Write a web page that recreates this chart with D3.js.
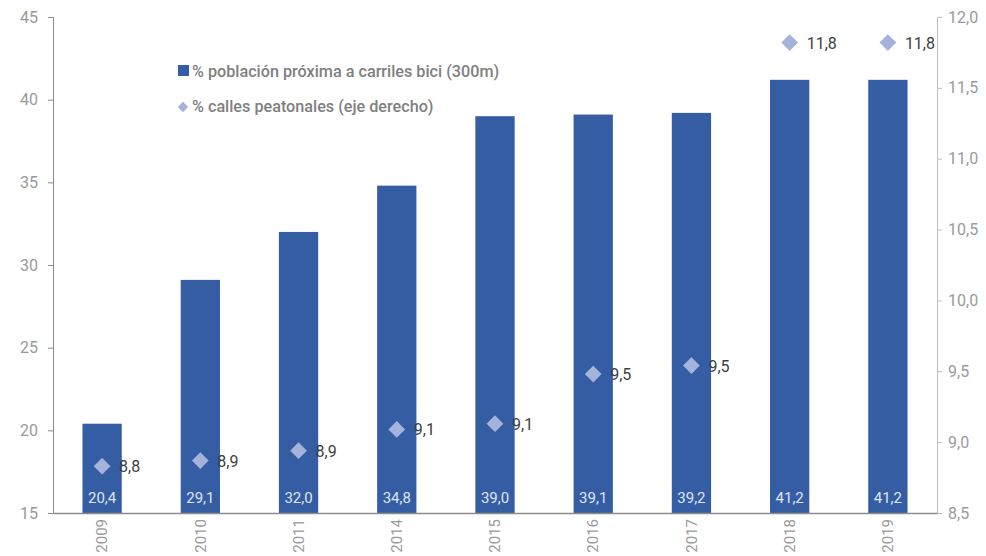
<!DOCTYPE html>
<html><head><meta charset="utf-8">
<script src="https://cdn.jsdelivr.net/npm/d3@7"></script>
<style>body{margin:0;background:#fff}svg{display:block;font-family:Roboto,sans-serif}</style>
</head><body><svg id="c" width="986" height="556"></svg>
<script>
const years = ["2009","2010","2011","2014","2015","2016","2017","2018","2019"];
const bikeValues = [20.4, 29.1, 32.0, 34.8, 39.0, 39.1, 39.2, 41.2, 41.2];
const pedestrianValues = [8.83, 8.87, 8.94, 9.09, 9.13, 9.48, 9.54, 11.82, 11.82];
const pedestrianLabels = ["8,8","8,9","8,9","9,1","9,1","9,5","9,5","11,8","11,8"];
const leftTicks = [15, 20, 25, 30, 35, 40, 45];
const rightTicks = [8.5, 9.0, 9.5, 10.0, 10.5, 11.0, 11.5, 12.0];
const seriesNames = ["% población próxima a carriles bici (300m)", "% calles peatonales (eje derecho)"];

const svg = d3.select("#c");
const L = 53, R = 937, T = 17, B = 513;
const fmt1 = d => d.toFixed(1).replace(".", ",");
const x = d3.scaleBand().domain(years).range([L, R]).paddingInner(0.6).paddingOuter(0.3);
const yL = d3.scaleLinear().domain([15, 45]).range([B, T]);
const yR = d3.scaleLinear().domain([8.5, 12.0]).range([B, T]);
const barColor = "#355da4", diaColor = "#a5b3db";

// left axis
const gL = svg.append("g").attr("transform", `translate(${L},0)`)
  .call(d3.axisLeft(yL).tickValues(leftTicks).tickSize(5).tickPadding(10));
gL.select(".domain").attr("stroke", "#8c8c8c");
gL.selectAll(".tick line").attr("stroke", "#8c8c8c");
gL.selectAll(".tick text").attr("fill", "#9a9a9a").style("font-size", "16px").style("font-family", "Roboto");

// right axis
const gR = svg.append("g").attr("transform", `translate(${R},0)`)
  .call(d3.axisRight(yR).tickValues(rightTicks).tickSize(5).tickPadding(6).tickFormat(fmt1));
gR.select(".domain").attr("stroke", "#bfbfbf");
gR.selectAll(".tick line").attr("stroke", "#bfbfbf");
gR.selectAll(".tick text").attr("fill", "#9a9a9a").style("font-size", "16px").style("font-family", "Roboto");

// bars
svg.append("g").selectAll("rect").data(years).join("rect")
  .attr("x", d => x(d)).attr("width", x.bandwidth())
  .attr("y", (d, i) => yL(bikeValues[i])).attr("height", (d, i) => yL(15) - yL(bikeValues[i]))
  .attr("fill", barColor);

// bar labels
svg.append("g").selectAll("text").data(years).join("text")
  .attr("x", d => x(d) + x.bandwidth() / 2).attr("y", B - 10)
  .attr("text-anchor", "middle").attr("fill", "#dfe5f4").style("font-size", "15px")
  .text((d, i) => fmt1(bikeValues[i]));

// bottom axis
const gB = svg.append("g").attr("transform", `translate(0,${B})`)
  .call(d3.axisBottom(x).tickSize(0).tickPadding(0));
gB.select(".domain").attr("stroke", "#8c8c8c").attr("stroke-width", 1.5);
gB.selectAll(".tick text").attr("fill", "#9a9a9a").style("font-size", "15px").style("font-family", "Roboto")
  .attr("transform", "rotate(-90)").attr("text-anchor", "end").attr("dx", "-6px").attr("dy", "0.35em").attr("y", 0).attr("x", 0);

// diamonds
svg.append("g").selectAll("path").data(years).join("path")
  .attr("d", d3.symbol().type(d3.symbolSquare).size(140))
  .attr("transform", (d, i) => `translate(${x(d) + x.bandwidth() / 2},${yR(pedestrianValues[i])}) rotate(45)`)
  .attr("fill", diaColor);
svg.append("g").selectAll("text").data(years).join("text")
  .attr("x", d => x(d) + x.bandwidth() / 2 + 17).attr("y", (d, i) => yR(pedestrianValues[i]) + 6)
  .attr("fill", "#404040").style("font-size", "16px")
  .text((d, i) => pedestrianLabels[i]);

// legend
const lg = svg.append("g");
lg.append("rect").attr("x", 178).attr("y", 65).attr("width", 11).attr("height", 11).attr("fill", barColor);
lg.append("text").attr("x", 192).attr("y", 77).attr("fill", "#7f7f7f").style("font-size", "16.2px").style("font-weight", "500").text(seriesNames[0]);
lg.append("path").attr("d", d3.symbol().type(d3.symbolSquare).size(55)).attr("transform", "translate(183,107) rotate(45)").attr("fill", diaColor);
lg.append("text").attr("x", 192).attr("y", 112).attr("fill", "#7f7f7f").style("font-size", "16.2px").style("font-weight", "500").text(seriesNames[1]);
</script></body></html>
